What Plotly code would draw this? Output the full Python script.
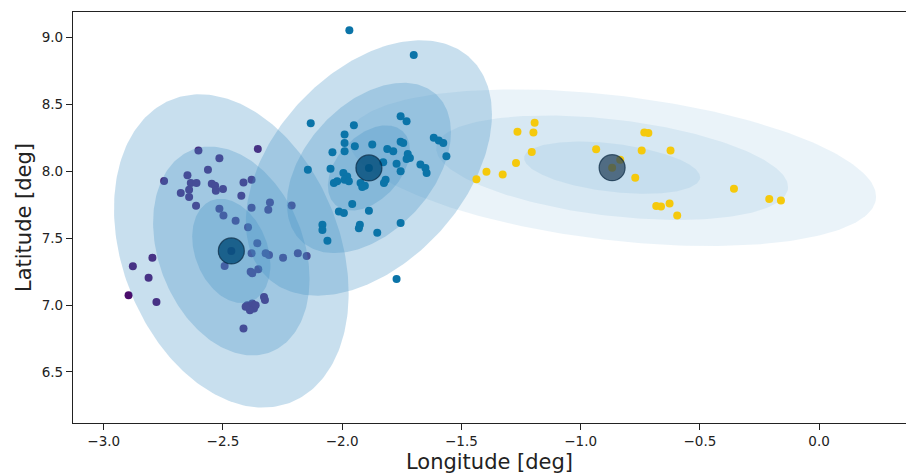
import numpy as np
import plotly.graph_objects as go

# ---------------- data ----------------
purple_lon = [-2.603, -2.354, -2.515, -2.563, -2.747, -2.649, -2.635, -2.611, -2.677, -2.642,
              -2.642, -2.547, -2.533, -2.530, -2.500, -2.414, -2.380, -2.423, -2.613, -2.515,
              -2.498, -2.447, -2.395, -2.303, -2.310, -2.212, -2.380, -2.356, -2.380, -2.321,
              -2.307, -2.248, -2.186, -2.149, -2.493, -2.384, -2.352, -2.377, -2.398, -2.377,
              -2.370, -2.363, -2.387, -2.405, -2.328, -2.324, -2.414, -2.796, -2.878, -2.812,
              -2.896, -2.779, -2.465]
purple_lat = [8.154, 8.166, 8.096, 8.011, 7.927, 7.969, 7.912, 7.912, 7.837, 7.861,
              7.807, 7.906, 7.891, 7.854, 7.867, 7.916, 7.936, 7.816, 7.741, 7.719,
              7.669, 7.629, 7.582, 7.766, 7.711, 7.744, 7.726, 7.462, 7.387, 7.387,
              7.374, 7.354, 7.387, 7.367, 7.292, 7.249, 7.267, 7.237, 6.999, 7.012,
              6.974, 6.999, 6.962, 6.987, 7.061, 7.037, 6.824, 7.354, 7.289, 7.204,
              7.074, 7.022, 7.404]

teal_lon = [-1.970, -1.700, -2.132, -1.951, -1.755, -1.730, -1.990, -1.990, -1.990, -2.041,
            -1.947, -1.874, -1.811, -1.786, -1.755, -1.744, -1.616, -1.595, -1.576, -1.563,
            -1.725, -1.716, -1.730, -1.772, -1.828, -1.672, -1.651, -1.646, -1.755, -2.049,
            -2.144, -1.995, -1.979, -1.990, -1.972, -2.035, -2.021, -1.923, -1.905, -1.916,
            -1.818, -1.825, -1.958, -2.014, -1.993, -1.888, -1.755, -1.926, -1.930, -1.853,
            -2.083, -2.083, -2.062, -1.772, -1.888]
teal_lat = [9.053, 8.868, 8.358, 8.343, 8.411, 8.373, 8.274, 8.211, 8.148, 8.141,
            8.186, 8.199, 8.166, 8.148, 8.219, 8.211, 8.249, 8.229, 8.211, 8.111,
            8.129, 8.099, 8.091, 8.056, 8.066, 8.049, 8.024, 7.987, 7.999, 8.019,
            8.011, 7.987, 7.961, 7.936, 7.924, 7.912, 7.924, 7.912, 7.891, 7.882,
            7.936, 7.912, 7.754, 7.699, 7.687, 7.704, 7.612, 7.599, 7.574, 7.541,
            7.599, 7.561, 7.481, 7.194, 8.024]

yellow_lon = [-1.193, -1.265, -1.198, -0.716, -0.733, -1.205, -0.935, -0.744, -0.623, -1.271,
              -1.395, -1.327, -1.437, -0.834, -0.771, -0.357, -0.209, -0.160, -0.683, -0.663,
              -0.627, -0.595, -0.868]
yellow_lat = [8.361, 8.294, 8.289, 8.286, 8.289, 8.144, 8.164, 8.154, 8.154, 8.061,
              7.996, 7.976, 7.939, 8.086, 7.951, 7.869, 7.792, 7.781, 7.739, 7.736,
              7.759, 7.669, 8.026]

# cluster means and spreads (lon, lat), 1-sigma
cluster_mean_lon = [-2.465, -1.888, -0.868]
cluster_mean_lat = [7.404, 8.024, 8.026]
cluster_sd_lon = [0.164, 0.172, 0.369]
cluster_sd_lat = [0.390, 0.318, 0.195]
cluster_corr = [-0.27, 0.42, -0.37]
sigma_levels = [3, 2, 1]

x_ticks = [-3.0, -2.5, -2.0, -1.5, -1.0, -0.5, 0.0]
x_tick_text = ["\u22123.0", "\u22122.5", "\u22122.0", "\u22121.5", "\u22121.0", "\u22120.5", "0.0"]
y_ticks = [6.5, 7.0, 7.5, 8.0, 8.5, 9.0]
y_tick_text = ["6.5", "7.0", "7.5", "8.0", "8.5", "9.0"]

# ---------------- styles ----------------
point_colors = ["#4a0c6b", "#0b74a8", "#f5c90c"]
ellipse_fill = ["rgba(66,146,198,0.29)", "rgba(66,146,198,0.29)", "rgba(66,146,198,0.11)"]
center_fill = ["rgba(0,75,120,0.8)", "rgba(0,75,120,0.8)", "rgba(40,70,95,0.75)"]
FONT = "DejaVu Sans, Liberation Sans, sans-serif"

fig = go.Figure()


def add_points(lon, lat, col):
    fig.add_trace(go.Scatter(x=lon, y=lat, mode="markers",
                             marker=dict(size=8, color=col, line=dict(width=0)),
                             hoverinfo="skip", showlegend=False))


# purple points beneath the translucent ellipses
add_points(purple_lon, purple_lat, point_colors[0])

# sigma ellipses
t = np.linspace(0, 2 * np.pi, 240)
circle = np.vstack([np.cos(t), np.sin(t)])
for i in range(3):
    sx, sy, r = cluster_sd_lon[i], cluster_sd_lat[i], cluster_corr[i]
    cov = np.array([[sx * sx, r * sx * sy], [r * sx * sy, sy * sy]])
    L = np.linalg.cholesky(cov)
    for k in sigma_levels:
        pts = k * (L @ circle)
        fig.add_trace(go.Scatter(x=cluster_mean_lon[i] + pts[0], y=cluster_mean_lat[i] + pts[1],
                                 mode="lines", fill="toself", fillcolor=ellipse_fill[i],
                                 line=dict(width=0), hoverinfo="skip", showlegend=False))

add_points(teal_lon, teal_lat, point_colors[1])
add_points(yellow_lon, yellow_lat, point_colors[2])

# cluster centres
for i in range(3):
    fig.add_trace(go.Scatter(x=[cluster_mean_lon[i]], y=[cluster_mean_lat[i]], mode="markers",
                             marker=dict(size=26, color=center_fill[i],
                                         line=dict(width=1.2, color="rgba(10,40,65,0.7)")),
                             hoverinfo="skip", showlegend=False))

axis_common = dict(showgrid=False, zeroline=False, showline=True, linecolor="#222",
                   linewidth=1.2, ticks="outside", ticklen=6, tickwidth=1.2, tickcolor="#222",
                   tickfont=dict(family=FONT, size=13.5, color="#222"))

fig.update_xaxes(range=[-3.129, 0.3645], tickvals=x_ticks, ticktext=x_tick_text, mirror=True,
                 title=dict(text="Longitude [deg]", font=dict(family=FONT, size=21, color="#222"),
                            standoff=6),
                 **axis_common)
fig.update_yaxes(range=[6.119, 9.189], tickvals=y_ticks, ticktext=y_tick_text, mirror=False,
                 title=dict(text="Latitude [deg]", font=dict(family=FONT, size=21, color="#222"),
                            standoff=4),
                 **axis_common)

fig.update_layout(width=906, height=474, margin=dict(l=73, r=0, t=12, b=51),
                  plot_bgcolor="white", paper_bgcolor="white", showlegend=False,
                  font=dict(family=FONT))

fig.write_html("out.html", config={"displayModeBar": False},
               post_script="document.body.style.margin='0';document.body.style.overflow='hidden';")
